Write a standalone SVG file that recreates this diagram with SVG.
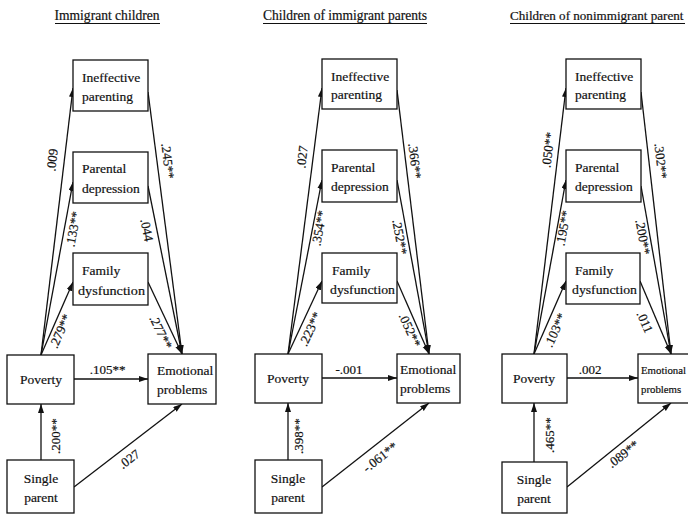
<svg xmlns="http://www.w3.org/2000/svg" width="688" height="514" viewBox="0 0 688 514">
<style>
.box{fill:#fff;stroke:#111;stroke-width:1.3}
.nt{font-family:"Liberation Serif","Times New Roman",serif;font-size:13.5px;fill:#111;stroke:#111;stroke-width:0.2}
.mid{text-anchor:middle}
.title{font-family:"Liberation Serif","Times New Roman",serif;font-size:14px;fill:#111;stroke:#111;stroke-width:0.2}
.ul{stroke:#111;stroke-width:1}
.edge{fill:none;stroke:#111;stroke-width:1.3;marker-end:url(#arr)}
.lbl{font-family:"Liberation Serif","Times New Roman",serif;font-size:13px;fill:#111;stroke:#111;stroke-width:0.2;text-anchor:middle}
</style>
<defs>
<marker id="arr" markerUnits="userSpaceOnUse" markerWidth="10" markerHeight="7" refX="9" refY="3" orient="auto">
<path d="M0,0 L9,3 L0,6 z" fill="#111"/>
</marker>
</defs>
<rect width="688" height="514" fill="#fff"/>

<g id="titles">
<text class="title mid" x="107" y="20" textLength="105" lengthAdjust="spacingAndGlyphs">Immigrant children</text>
<line class="ul" x1="55" y1="23.5" x2="160" y2="23.5"/>
<text class="title mid" x="345" y="20" textLength="164" lengthAdjust="spacingAndGlyphs">Children of immigrant parents</text>
<line class="ul" x1="263" y1="23.5" x2="427" y2="23.5"/>
<text class="title" x="510" y="20" style="font-size:13.1px">Children of nonimmigrant parent</text>
<line class="ul" x1="510" y1="23.5" x2="685" y2="23.5"/>
</g>

<g id="connectors">
<path class="edge" d="M41,355 L73,88"/>
<path class="edge" d="M41,355 L73,182"/>
<path class="edge" d="M41,355 L73,282"/>
<path class="edge" d="M148,92 L182,354"/>
<path class="edge" d="M148,186 L182,354"/>
<path class="edge" d="M148,282 L182,354"/>
<path class="edge" d="M74,379 L148,379"/>
<path class="edge" d="M41,460 L41,404"/>
<path class="edge" d="M74,487 L182,404"/>

<path class="edge" d="M288,354 L322,88"/>
<path class="edge" d="M288,354 L322,180"/>
<path class="edge" d="M288,354 L322,281"/>
<path class="edge" d="M397,90 L429,354"/>
<path class="edge" d="M397,180 L429,354"/>
<path class="edge" d="M397,281 L429,354"/>
<path class="edge" d="M322,378 L397,378"/>
<path class="edge" d="M288,460 L288,403"/>
<path class="edge" d="M322,487 L429,403"/>

<path class="edge" d="M534,354 L566,88"/>
<path class="edge" d="M534,354 L566,180"/>
<path class="edge" d="M534,354 L566,281"/>
<path class="edge" d="M641,92 L671,354"/>
<path class="edge" d="M641,186 L671,354"/>
<path class="edge" d="M640,281 L671,354"/>
<path class="edge" d="M567,378 L638,378"/>
<path class="edge" d="M534,462 L534,403"/>
<path class="edge" d="M567,487 L671,403"/>
</g>

<g id="edge-labels">
<text class="lbl" transform="translate(52,160) rotate(-83)" dy="0.35em">.009</text>
<text class="lbl" transform="translate(73,229) rotate(-79.5)" dy="0.35em">.133**</text>
<text class="lbl" transform="translate(60,331) rotate(-66)" dy="0.35em">.279**</text>
<text class="lbl" transform="translate(168,161) rotate(83)" dy="0.35em">.245**</text>
<text class="lbl" transform="translate(147,230) rotate(78.5)" dy="0.35em">.044</text>
<text class="lbl" transform="translate(161,332) rotate(64)" dy="0.35em">.277**</text>
<text class="lbl" x="107.5" y="374">.105**</text>
<text class="lbl" transform="translate(55,436) rotate(-90)" dy="0.35em">.200**</text>
<text class="lbl" transform="translate(129,459) rotate(-37.5)" dy="0.35em">.027</text>

<text class="lbl" transform="translate(302,157) rotate(-83)" dy="0.35em">.027</text>
<text class="lbl" transform="translate(319,228) rotate(-79.5)" dy="0.35em">.354**</text>
<text class="lbl" transform="translate(310,329) rotate(-65)" dy="0.35em">.223**</text>
<text class="lbl" transform="translate(415,161) rotate(83)" dy="0.35em">.366**</text>
<text class="lbl" transform="translate(400,237) rotate(79.5)" dy="0.35em">.252**</text>
<text class="lbl" transform="translate(410,330) rotate(65.7)" dy="0.35em">.052**</text>
<text class="lbl" x="349" y="374">-.001</text>
<text class="lbl" transform="translate(298,436) rotate(-90)" dy="0.35em">.398**</text>
<text class="lbl" transform="translate(380,457) rotate(-38)" dy="0.35em">-.061**</text>

<text class="lbl" transform="translate(548,150) rotate(-83)" dy="0.35em">.050**</text>
<text class="lbl" transform="translate(563,228) rotate(-79.6)" dy="0.35em">.195**</text>
<text class="lbl" transform="translate(555,330) rotate(-65.7)" dy="0.35em">.103**</text>
<text class="lbl" transform="translate(661,161) rotate(83.4)" dy="0.35em">.302**</text>
<text class="lbl" transform="translate(643,237) rotate(79.8)" dy="0.35em">.200**</text>
<text class="lbl" transform="translate(645,322) rotate(66.4)" dy="0.35em">.011</text>
<text class="lbl" x="590" y="374">.002</text>
<text class="lbl" transform="translate(549,435) rotate(-90)" dy="0.35em">.465**</text>
<text class="lbl" transform="translate(623,454) rotate(-38)" dy="0.35em">.089**</text>
</g>

<g id="p1-ineffective"><rect class="box" x="73" y="60" width="75" height="51"/><text class="nt" x="82" y="82">Ineffective</text><text class="nt" x="82" y="101">parenting</text></g>
<g id="p1-depression"><rect class="box" x="73" y="152" width="75" height="51"/><text class="nt" x="82" y="173">Parental</text><text class="nt" x="82" y="193">depression</text></g>
<g id="p1-family"><rect class="box" x="73" y="253" width="75" height="52"/><text class="nt" x="82" y="275">Family</text><text class="nt" x="78" y="295" textLength="67" lengthAdjust="spacingAndGlyphs">dysfunction</text></g>
<g id="p1-poverty"><rect class="box" x="7" y="355" width="67" height="49"/><text class="nt mid" x="41" y="384">Poverty</text></g>
<g id="p1-emotional"><rect class="box" x="148" y="354" width="68" height="50"/><text class="nt" x="157" y="375">Emotional</text><text class="nt" x="157" y="394">problems</text></g>
<g id="p1-single"><rect class="box" x="7" y="460" width="67" height="53"/><text class="nt mid" x="41" y="483">Single</text><text class="nt mid" x="41" y="502">parent</text></g>

<g id="p2-ineffective"><rect class="box" x="322" y="59" width="75" height="50"/><text class="nt" x="331" y="81">Ineffective</text><text class="nt" x="331" y="99">parenting</text></g>
<g id="p2-depression"><rect class="box" x="322" y="150" width="75" height="52"/><text class="nt" x="331" y="172">Parental</text><text class="nt" x="331" y="191">depression</text></g>
<g id="p2-family"><rect class="box" x="322" y="253" width="75" height="50"/><text class="nt" x="332" y="275">Family</text><text class="nt" x="330" y="294" textLength="65" lengthAdjust="spacingAndGlyphs">dysfunction</text></g>
<g id="p2-poverty"><rect class="box" x="255" y="354" width="67" height="49"/><text class="nt mid" x="288" y="383">Poverty</text></g>
<g id="p2-emotional"><rect class="box" x="397" y="354" width="63" height="49"/><text class="nt" x="400" y="374">Emotional</text><text class="nt" x="400" y="393">problems</text></g>
<g id="p2-single"><rect class="box" x="255" y="460" width="67" height="53"/><text class="nt mid" x="288" y="483">Single</text><text class="nt mid" x="288" y="502">parent</text></g>

<g id="p3-ineffective"><rect class="box" x="566" y="59" width="75" height="50"/><text class="nt" x="575" y="81">Ineffective</text><text class="nt" x="575" y="99">parenting</text></g>
<g id="p3-depression"><rect class="box" x="566" y="150" width="75" height="52"/><text class="nt" x="575" y="172">Parental</text><text class="nt" x="575" y="191">depression</text></g>
<g id="p3-family"><rect class="box" x="566" y="253" width="74" height="51"/><text class="nt" x="575" y="275">Family</text><text class="nt" x="572" y="294" textLength="65" lengthAdjust="spacingAndGlyphs">dysfunction</text></g>
<g id="p3-poverty"><rect class="box" x="502" y="354" width="65" height="49"/><text class="nt mid" x="534" y="383">Poverty</text></g>
<g id="p3-emotional"><rect class="box" x="638" y="354" width="68" height="49"/><text class="nt" x="641" y="374" style="font-size:10.8px">Emotional</text><text class="nt" x="641" y="393" style="font-size:10.8px">problems</text></g>
<g id="p3-single"><rect class="box" x="502" y="462" width="65" height="51"/><text class="nt mid" x="534" y="484">Single</text><text class="nt mid" x="534" y="503">parent</text></g>
</svg>
